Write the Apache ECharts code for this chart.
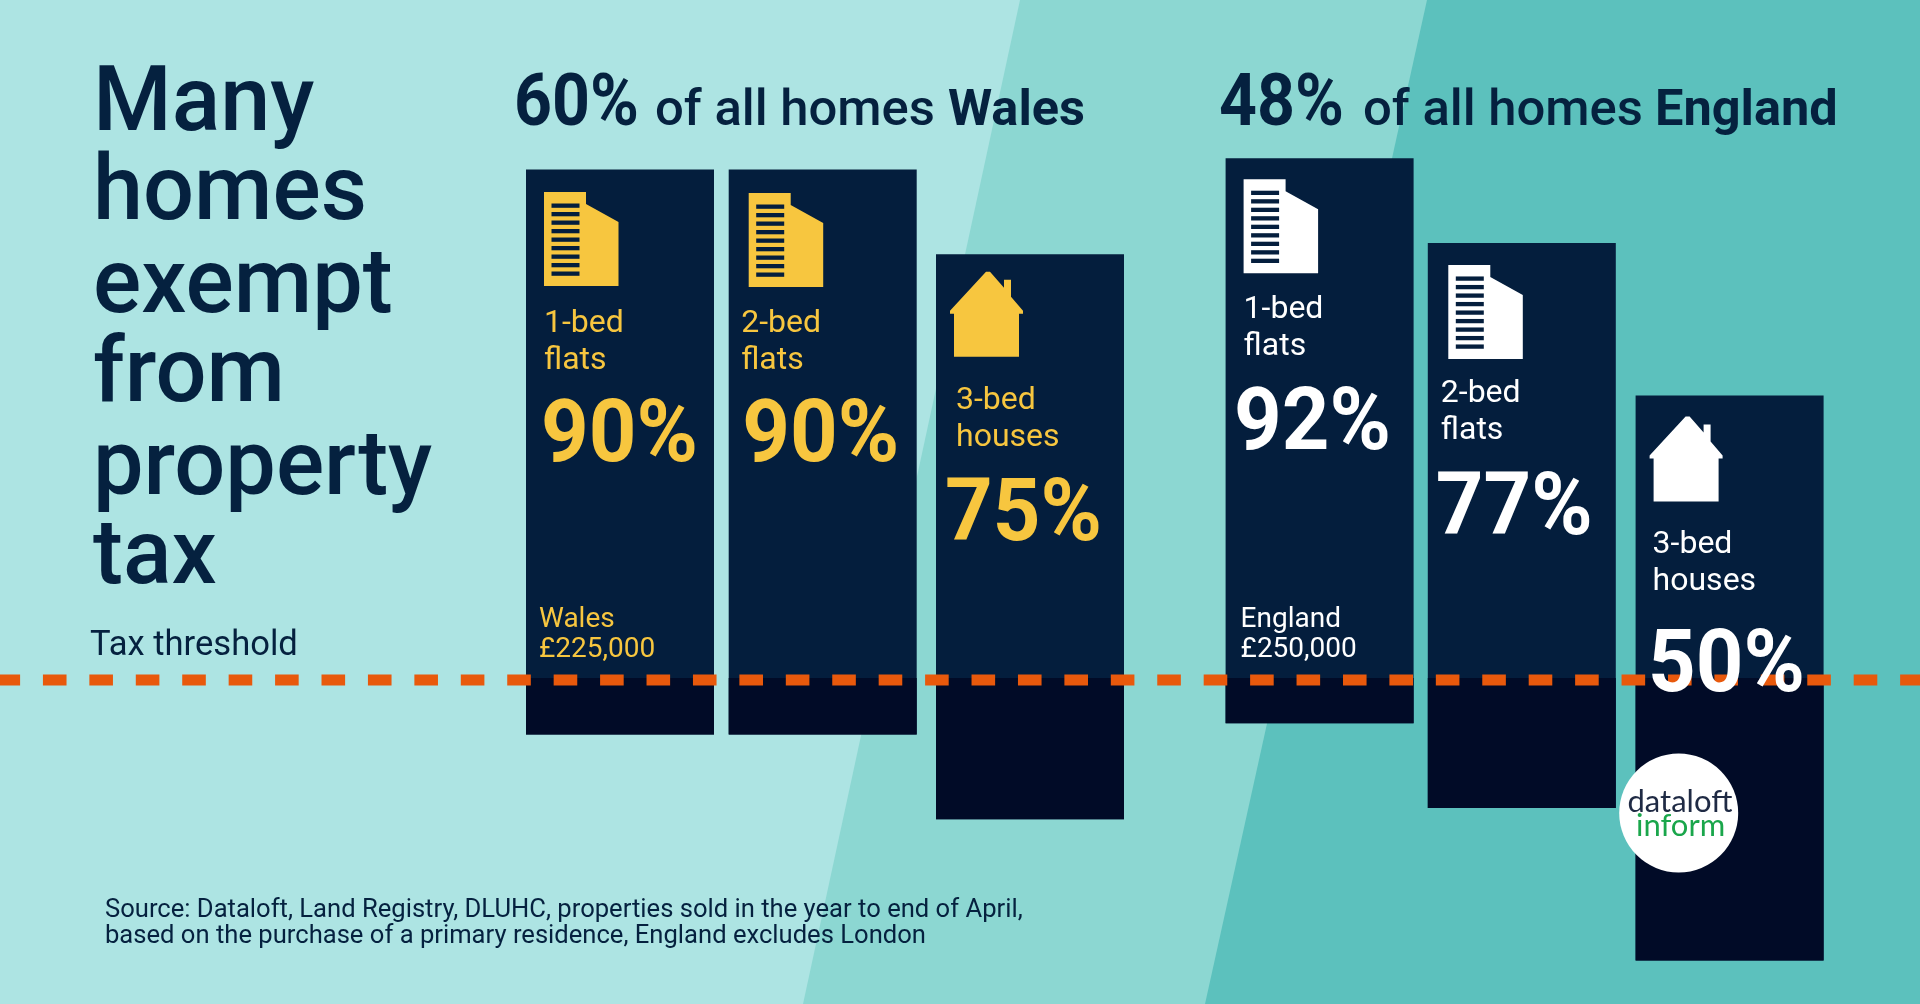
<!DOCTYPE html>
<html><head><meta charset="utf-8">
<style>html,body{margin:0;padding:0;background:#ade4e3}#c{width:1920px;height:1004px}</style>
<script src="https://cdn.jsdelivr.net/npm/echarts@6/dist/echarts.min.js"></script>
</head><body><div id="c"></div>
<script>
// ---- data ----
const walesCategories = ['1-bed flats', '2-bed flats', '3-bed houses'];
const englandCategories = ['1-bed flats', '2-bed flats', '3-bed houses'];
const walesExempt = [90, 90, 75];
const englandExempt = [92, 77, 50];
const thresholdValue = [0];
const captions = {wales:['Wales','£225,000'], england:['England','£250,000']};
const headlineWales = ['60%','of all homes','Wales'];
const headlineEngland = ['48%','of all homes','England'];
const titleLines = ['Many','homes','exempt','from','property','tax'];
const sourceLines = ['Source: Dataloft, Land Registry, DLUHC, properties sold in the year to end of April,',
 'based on the purchase of a primary residence, England excludes London'];

// ---- layout and style ----
const NAVY='#041e3d', DEEP='#010b27', INK='#05213f', YELLOW='#f7c63f', WHITE='#ffffff', ORANGE='#e8590c';
const FONT='Roboto';
const BAR_W=188;
// fine horizontal nudges of bars in each band (px)
const nudge={w:[0,-2.3,0], e:[0,-2.8,0]};
// icon / text offsets for each bar, relative to bar's left & top
const inner={
 w:[{ix:18,iy:22.5,kind:'flat',lx:18,ly:163,px:15,py:293,cap:13},
    {ix:20,iy:23.5,kind:'flat',lx:12.5,ly:163,px:13.5,py:293},
    {ix:14,iy:17.5,kind:'house',lx:20,ly:155.5,px:9,py:287.5}],
 e:[{ix:18,iy:21,kind:'flat',lx:18,ly:160,px:8.5,py:292.5,cap:15},
    {ix:20.5,iy:22,kind:'flat',lx:13,ly:160,px:8,py:293},
    {ix:14,iy:21,kind:'house',lx:17,ly:158,px:12.5,py:297}]
};

function txt(x,base,text,size,weight,fill,z,family,scaleX){
  const el={type:'text',z:z||10,style:{x:0,y:0,text:text,fill:fill,
    font:(weight||400)+' '+size+'px '+(family||FONT),verticalAlign:'middle',align:'left'},
    x:x,y:base-0.27*size};
  if(scaleX) el.scaleX=scaleX;
  return el;
}
function flatIcon(x,y,color){
  const kids=[{type:'polygon',shape:{points:[[x,y],[x+42,y],[x+42,y+12],[x+74.5,y+30],[x+74.5,y+94],[x,y+94]]},style:{fill:color}}];
  for(let i=0;i<9;i++){kids.push({type:'rect',shape:{x:x+7.5,y:y+11.5+i*8.5,width:28,height:4.3},style:{fill:NAVY}});}
  return kids;
}
function houseIcon(x,y,color){
  return [{type:'polygon',shape:{points:[[x+36,y],[x+40,y],[x+54,y+16],[x+54,y+8],[x+61,y+8],[x+61,y+25],[x+73,y+39],[x+73,y+42],[x+69,y+42],[x+69,y+85],[x+4,y+85],[x+4,y+42],[x,y+42],[x,y+39]]},style:{fill:color}}];
}
function barSeries(name,xi,yi,values,nudges){
  return {type:'custom',name:name,xAxisIndex:xi,yAxisIndex:yi,z:2,data:values.map((v,i)=>[i,v]),
    encode:{x:0,y:1},clip:false,silent:true,
    renderItem:(p,api)=>{
      const i=api.value(0),v=api.value(1);
      const top=api.coord([i,v]),zero=api.coord([i,0]),bot=api.coord([i,v-100]);
      const x=top[0]-BAR_W/2+nudges[i];
      return {type:'group',children:[
        {type:'rect',shape:{x:x,y:top[1],width:BAR_W,height:bot[1]-top[1]},style:{fill:NAVY}},
        {type:'rect',shape:{x:x,y:zero[1],width:BAR_W,height:bot[1]-zero[1]},style:{fill:DEEP}}
      ]};
    }};
}
function labelSeries(name,xi,yi,values,cats,nudges,layout,color,caption){
  return {type:'custom',name:name,xAxisIndex:xi,yAxisIndex:yi,z:6,data:values.map((v,i)=>[i,v]),
    encode:{x:0,y:1},clip:false,silent:true,
    renderItem:(p,api)=>{
      const i=api.value(0),v=api.value(1);
      const top=api.coord([i,v]),x=top[0]-BAR_W/2+nudges[i],y=top[1],L=layout[i];
      const icon=L.kind==='flat'?flatIcon(x+L.ix,y+L.iy,color):houseIcon(x+L.ix,y+L.iy,color);
      const parts=cats[i].split(' ');
      const kids=icon.concat([
        txt(x+L.lx,y+L.ly,parts[0],32,400,color),
        txt(x+L.lx,y+L.ly+37,parts[1],32,400,color),
        txt(x+L.px,y+L.py,v+'%',87,700,color,10,FONT,0.956)
      ]);
      if(L.cap){
        kids.push(txt(x+L.cap,628,caption[0],28,400,color));
        kids.push(txt(x+L.cap,657.5,caption[1],28,400,color));
      }
      return {type:'group',children:kids};
    }};
}
const hidden={show:false};
const option={
  animation:false,
  backgroundColor:'#ade4e3',
  grid:[
    {left:517.5,width:615,top:56.5,height:904},
    {left:1217.1,width:615,top:56.5,height:904},
    {left:0,right:0,top:670,height:20}
  ],
  xAxis:[
    {type:'category',gridIndex:0,data:walesCategories,...hidden},
    {type:'category',gridIndex:1,data:englandCategories,...hidden},
    {type:'value',gridIndex:2,min:0,max:1,...hidden}
  ],
  yAxis:[
    {type:'value',gridIndex:0,min:-50,max:110,...hidden},
    {type:'value',gridIndex:1,min:-50,max:110,...hidden},
    {type:'value',gridIndex:2,min:-1,max:1,...hidden}
  ],
  series:[
    barSeries('Wales',0,0,walesExempt,nudge.w),
    barSeries('England',1,1,englandExempt,nudge.e),
    {type:'line',name:'Tax threshold',xAxisIndex:2,yAxisIndex:2,z:4,showSymbol:false,silent:true,
     data:[[0,thresholdValue[0]],[1,thresholdValue[0]]],
     lineStyle:{color:ORANGE,width:11,type:[23.6,22.83],dashOffset:3.5,cap:'butt'}},
    labelSeries('Wales labels',0,0,walesExempt,walesCategories,nudge.w,inner.w,YELLOW,captions.wales),
    labelSeries('England labels',1,1,englandExempt,englandCategories,nudge.e,inner.e,WHITE,captions.england)
  ],
  graphic:[
    {type:'polygon',z:-3,silent:true,shape:{points:[[1020,0],[1920,0],[1920,1004],[803,1004]]},style:{fill:'#8cd7d2'}},
    {type:'polygon',z:-2,silent:true,shape:{points:[[1427,0],[1920,0],[1920,1004],[1205,1004]]},style:{fill:'#5cc1bd'}},
    ...titleLines.map((t,i)=>txt(93,[131.7,221,313.6,402.8,495.4,585][i],t,90,500,INK,8)),
    txt(90,656,'Tax threshold',34.6,400,INK,8),
    txt(514,126,headlineWales[0],72,700,INK,8,FONT,0.92),
    txt(655,126,headlineWales[1],50.8,500,INK,8),
    txt(948,126,headlineWales[2],50.5,700,INK,8),
    txt(1219,126,headlineEngland[0],72,700,INK,8,FONT,0.92),
    txt(1363,126,headlineEngland[1],50.8,500,INK,8),
    txt(1655,126,headlineEngland[2],50.5,700,INK,8),
    txt(105,918,sourceLines[0],25.6,400,INK,8),
    txt(105,944,sourceLines[1],25.6,400,INK,8),
    {type:'circle',z:20,silent:true,shape:{cx:1678.7,cy:813,r:59.5},style:{fill:'#ffffff'}},
    txt(1627.5,810,'dataloft',31,400,'#1f2a44',21,'Lato'),
    txt(1636,834,'inform',31,400,'#1aa64b',21,'Lato')
  ]
};
echarts.init(document.getElementById('c')).setOption(option);
</script></body></html>
